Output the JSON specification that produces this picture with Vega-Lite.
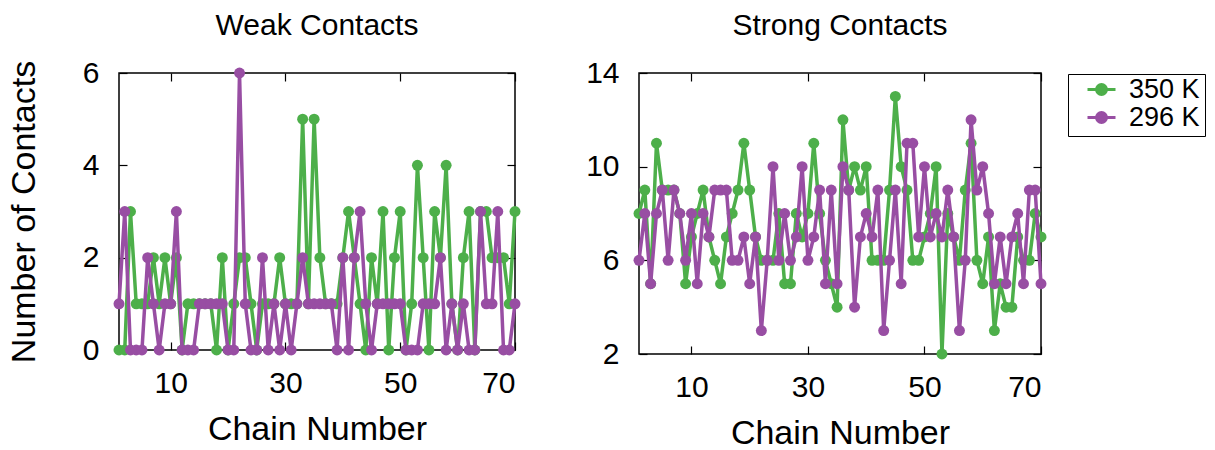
{
 "$schema": "https://vega.github.io/schema/vega-lite/v6.json",
 "background": "white",
 "padding": {"left": 6, "top": 10, "right": 2, "bottom": 2},
 "datasets": {
  "weak": [
   {"n":1,"s":"350 K","v":0},{"n":2,"s":"350 K","v":0},{"n":3,"s":"350 K","v":3},{"n":4,"s":"350 K","v":1},{"n":5,"s":"350 K","v":1},{"n":6,"s":"350 K","v":1},{"n":7,"s":"350 K","v":2},{"n":8,"s":"350 K","v":1},{"n":9,"s":"350 K","v":2},{"n":10,"s":"350 K","v":1},
   {"n":11,"s":"350 K","v":2},{"n":12,"s":"350 K","v":0},{"n":13,"s":"350 K","v":1},{"n":14,"s":"350 K","v":1},{"n":15,"s":"350 K","v":1},{"n":16,"s":"350 K","v":1},{"n":17,"s":"350 K","v":1},{"n":18,"s":"350 K","v":0},{"n":19,"s":"350 K","v":2},{"n":20,"s":"350 K","v":0},
   {"n":21,"s":"350 K","v":1},{"n":22,"s":"350 K","v":2},{"n":23,"s":"350 K","v":2},{"n":24,"s":"350 K","v":1},{"n":25,"s":"350 K","v":0},{"n":26,"s":"350 K","v":1},{"n":27,"s":"350 K","v":1},{"n":28,"s":"350 K","v":1},{"n":29,"s":"350 K","v":2},{"n":30,"s":"350 K","v":1},
   {"n":31,"s":"350 K","v":1},{"n":32,"s":"350 K","v":1},{"n":33,"s":"350 K","v":5},{"n":34,"s":"350 K","v":1},{"n":35,"s":"350 K","v":5},{"n":36,"s":"350 K","v":2},{"n":37,"s":"350 K","v":1},{"n":38,"s":"350 K","v":1},{"n":39,"s":"350 K","v":1},{"n":40,"s":"350 K","v":2},
   {"n":41,"s":"350 K","v":3},{"n":42,"s":"350 K","v":2},{"n":43,"s":"350 K","v":1},{"n":44,"s":"350 K","v":0},{"n":45,"s":"350 K","v":2},{"n":46,"s":"350 K","v":1},{"n":47,"s":"350 K","v":3},{"n":48,"s":"350 K","v":0},{"n":49,"s":"350 K","v":2},{"n":50,"s":"350 K","v":3},
   {"n":51,"s":"350 K","v":0},{"n":52,"s":"350 K","v":1},{"n":53,"s":"350 K","v":4},{"n":54,"s":"350 K","v":2},{"n":55,"s":"350 K","v":0},{"n":56,"s":"350 K","v":3},{"n":57,"s":"350 K","v":2},{"n":58,"s":"350 K","v":4},{"n":59,"s":"350 K","v":1},{"n":60,"s":"350 K","v":0},
   {"n":61,"s":"350 K","v":2},{"n":62,"s":"350 K","v":3},{"n":63,"s":"350 K","v":0},{"n":64,"s":"350 K","v":3},{"n":65,"s":"350 K","v":3},{"n":66,"s":"350 K","v":2},{"n":67,"s":"350 K","v":2},{"n":68,"s":"350 K","v":2},{"n":69,"s":"350 K","v":1},{"n":70,"s":"350 K","v":3},
   {"n":1,"s":"296 K","v":1},{"n":2,"s":"296 K","v":3},{"n":3,"s":"296 K","v":0},{"n":4,"s":"296 K","v":0},{"n":5,"s":"296 K","v":0},{"n":6,"s":"296 K","v":2},{"n":7,"s":"296 K","v":1},{"n":8,"s":"296 K","v":0},{"n":9,"s":"296 K","v":1},{"n":10,"s":"296 K","v":1},
   {"n":11,"s":"296 K","v":3},{"n":12,"s":"296 K","v":0},{"n":13,"s":"296 K","v":0},{"n":14,"s":"296 K","v":0},{"n":15,"s":"296 K","v":1},{"n":16,"s":"296 K","v":1},{"n":17,"s":"296 K","v":1},{"n":18,"s":"296 K","v":1},{"n":19,"s":"296 K","v":1},{"n":20,"s":"296 K","v":0},
   {"n":21,"s":"296 K","v":0},{"n":22,"s":"296 K","v":6},{"n":23,"s":"296 K","v":1},{"n":24,"s":"296 K","v":0},{"n":25,"s":"296 K","v":0},{"n":26,"s":"296 K","v":2},{"n":27,"s":"296 K","v":0},{"n":28,"s":"296 K","v":1},{"n":29,"s":"296 K","v":0},{"n":30,"s":"296 K","v":1},
   {"n":31,"s":"296 K","v":0},{"n":32,"s":"296 K","v":1},{"n":33,"s":"296 K","v":2},{"n":34,"s":"296 K","v":1},{"n":35,"s":"296 K","v":1},{"n":36,"s":"296 K","v":1},{"n":37,"s":"296 K","v":1},{"n":38,"s":"296 K","v":1},{"n":39,"s":"296 K","v":0},{"n":40,"s":"296 K","v":2},
   {"n":41,"s":"296 K","v":0},{"n":42,"s":"296 K","v":2},{"n":43,"s":"296 K","v":3},{"n":44,"s":"296 K","v":1},{"n":45,"s":"296 K","v":0},{"n":46,"s":"296 K","v":1},{"n":47,"s":"296 K","v":1},{"n":48,"s":"296 K","v":1},{"n":49,"s":"296 K","v":1},{"n":50,"s":"296 K","v":1},
   {"n":51,"s":"296 K","v":0},{"n":52,"s":"296 K","v":0},{"n":53,"s":"296 K","v":0},{"n":54,"s":"296 K","v":1},{"n":55,"s":"296 K","v":1},{"n":56,"s":"296 K","v":1},{"n":57,"s":"296 K","v":2},{"n":58,"s":"296 K","v":0},{"n":59,"s":"296 K","v":1},{"n":60,"s":"296 K","v":0},
   {"n":61,"s":"296 K","v":1},{"n":62,"s":"296 K","v":0},{"n":63,"s":"296 K","v":0},{"n":64,"s":"296 K","v":3},{"n":65,"s":"296 K","v":1},{"n":66,"s":"296 K","v":1},{"n":67,"s":"296 K","v":3},{"n":68,"s":"296 K","v":0},{"n":69,"s":"296 K","v":0},{"n":70,"s":"296 K","v":1}
  ],
  "strong": [
   {"n":1,"s":"350 K","v":8},{"n":2,"s":"350 K","v":9},{"n":3,"s":"350 K","v":5},{"n":4,"s":"350 K","v":11},{"n":5,"s":"350 K","v":9},{"n":6,"s":"350 K","v":9},{"n":7,"s":"350 K","v":9},{"n":8,"s":"350 K","v":8},{"n":9,"s":"350 K","v":5},{"n":10,"s":"350 K","v":7},
   {"n":11,"s":"350 K","v":8},{"n":12,"s":"350 K","v":9},{"n":13,"s":"350 K","v":7},{"n":14,"s":"350 K","v":6},{"n":15,"s":"350 K","v":5},{"n":16,"s":"350 K","v":7},{"n":17,"s":"350 K","v":8},{"n":18,"s":"350 K","v":9},{"n":19,"s":"350 K","v":11},{"n":20,"s":"350 K","v":9},
   {"n":21,"s":"350 K","v":7},{"n":22,"s":"350 K","v":6},{"n":23,"s":"350 K","v":6},{"n":24,"s":"350 K","v":6},{"n":25,"s":"350 K","v":8},{"n":26,"s":"350 K","v":5},{"n":27,"s":"350 K","v":5},{"n":28,"s":"350 K","v":8},{"n":29,"s":"350 K","v":7},{"n":30,"s":"350 K","v":8},
   {"n":31,"s":"350 K","v":11},{"n":32,"s":"350 K","v":8},{"n":33,"s":"350 K","v":6},{"n":34,"s":"350 K","v":5},{"n":35,"s":"350 K","v":4},{"n":36,"s":"350 K","v":12},{"n":37,"s":"350 K","v":9},{"n":38,"s":"350 K","v":10},{"n":39,"s":"350 K","v":9},{"n":40,"s":"350 K","v":10},
   {"n":41,"s":"350 K","v":6},{"n":42,"s":"350 K","v":6},{"n":43,"s":"350 K","v":6},{"n":44,"s":"350 K","v":9},{"n":45,"s":"350 K","v":13},{"n":46,"s":"350 K","v":10},{"n":47,"s":"350 K","v":9},{"n":48,"s":"350 K","v":6},{"n":49,"s":"350 K","v":6},{"n":50,"s":"350 K","v":7},
   {"n":51,"s":"350 K","v":8},{"n":52,"s":"350 K","v":10},{"n":53,"s":"350 K","v":2},{"n":54,"s":"350 K","v":8},{"n":55,"s":"350 K","v":7},{"n":56,"s":"350 K","v":6},{"n":57,"s":"350 K","v":9},{"n":58,"s":"350 K","v":11},{"n":59,"s":"350 K","v":6},{"n":60,"s":"350 K","v":5},
   {"n":61,"s":"350 K","v":7},{"n":62,"s":"350 K","v":3},{"n":63,"s":"350 K","v":5},{"n":64,"s":"350 K","v":4},{"n":65,"s":"350 K","v":4},{"n":66,"s":"350 K","v":7},{"n":67,"s":"350 K","v":6},{"n":68,"s":"350 K","v":6},{"n":69,"s":"350 K","v":8},{"n":70,"s":"350 K","v":7},
   {"n":1,"s":"296 K","v":6},{"n":2,"s":"296 K","v":8},{"n":3,"s":"296 K","v":5},{"n":4,"s":"296 K","v":8},{"n":5,"s":"296 K","v":9},{"n":6,"s":"296 K","v":6},{"n":7,"s":"296 K","v":9},{"n":8,"s":"296 K","v":8},{"n":9,"s":"296 K","v":6},{"n":10,"s":"296 K","v":8},
   {"n":11,"s":"296 K","v":5},{"n":12,"s":"296 K","v":8},{"n":13,"s":"296 K","v":7},{"n":14,"s":"296 K","v":9},{"n":15,"s":"296 K","v":9},{"n":16,"s":"296 K","v":9},{"n":17,"s":"296 K","v":6},{"n":18,"s":"296 K","v":6},{"n":19,"s":"296 K","v":7},{"n":20,"s":"296 K","v":5},
   {"n":21,"s":"296 K","v":7},{"n":22,"s":"296 K","v":3},{"n":23,"s":"296 K","v":6},{"n":24,"s":"296 K","v":10},{"n":25,"s":"296 K","v":6},{"n":26,"s":"296 K","v":8},{"n":27,"s":"296 K","v":6},{"n":28,"s":"296 K","v":7},{"n":29,"s":"296 K","v":10},{"n":30,"s":"296 K","v":6},
   {"n":31,"s":"296 K","v":7},{"n":32,"s":"296 K","v":9},{"n":33,"s":"296 K","v":5},{"n":34,"s":"296 K","v":9},{"n":35,"s":"296 K","v":5},{"n":36,"s":"296 K","v":10},{"n":37,"s":"296 K","v":9},{"n":38,"s":"296 K","v":4},{"n":39,"s":"296 K","v":7},{"n":40,"s":"296 K","v":8},
   {"n":41,"s":"296 K","v":7},{"n":42,"s":"296 K","v":9},{"n":43,"s":"296 K","v":3},{"n":44,"s":"296 K","v":6},{"n":45,"s":"296 K","v":9},{"n":46,"s":"296 K","v":5},{"n":47,"s":"296 K","v":11},{"n":48,"s":"296 K","v":11},{"n":49,"s":"296 K","v":7},{"n":50,"s":"296 K","v":10},
   {"n":51,"s":"296 K","v":7},{"n":52,"s":"296 K","v":8},{"n":53,"s":"296 K","v":7},{"n":54,"s":"296 K","v":9},{"n":55,"s":"296 K","v":7},{"n":56,"s":"296 K","v":3},{"n":57,"s":"296 K","v":6},{"n":58,"s":"296 K","v":12},{"n":59,"s":"296 K","v":9},{"n":60,"s":"296 K","v":10},
   {"n":61,"s":"296 K","v":8},{"n":62,"s":"296 K","v":5},{"n":63,"s":"296 K","v":7},{"n":64,"s":"296 K","v":5},{"n":65,"s":"296 K","v":7},{"n":66,"s":"296 K","v":8},{"n":67,"s":"296 K","v":5},{"n":68,"s":"296 K","v":9},{"n":69,"s":"296 K","v":9},{"n":70,"s":"296 K","v":5}
  ]
 },
 "config": {
  "font": "Liberation Sans",
  "view": {"stroke": "black", "strokeWidth": 1.5},
  "axis": {"grid": false, "domain": false, "tickSize": -8, "tickColor": "black", "tickWidth": 1.2, "labelFontSize": 30, "labelColor": "black", "labelFont": "Liberation Sans", "titleFontSize": 34, "titleFontWeight": "normal", "titleColor": "black", "titleFont": "Liberation Sans"},
  "title": {"fontSize": 30, "fontWeight": "normal", "font": "Liberation Sans", "color": "black"}
 },
 "bounds": "flush",
 "spacing": 124,
 "hconcat": [
  {
   "width": 396, "height": 277,
   "title": {"text": "Weak Contacts", "offset": 17},
   "data": {"name": "weak"},
   "layer": [
    {
     "transform": [{"filter": "datum.s === '350 K'"}],
     "mark": {"type": "line", "strokeWidth": 3.5, "color": "#4daf4a", "point": {"filled": true, "size": 120, "color": "#4daf4a", "opacity": 1}},
     "encoding": {
      "x": {"field": "n", "type": "quantitative", "scale": {"domain": [1, 70], "nice": false, "zero": false}, "axis": {"values": [10, 30, 50, 70], "title": "Chain Number", "labelPadding": 26, "labelDx": 5, "titlePadding": 14}},
      "y": {"field": "v", "type": "quantitative", "scale": {"domain": [0, 6], "nice": false}, "axis": {"values": [0, 2, 4, 6], "title": "Number of Contacts", "labelPadding": 28, "titlePadding": 41}}
     }
    },
    {
     "transform": [{"filter": "datum.s === '296 K'"}],
     "mark": {"type": "line", "strokeWidth": 3.5, "color": "#984ea3", "point": {"filled": true, "size": 120, "color": "#984ea3", "opacity": 1}},
     "encoding": {
      "x": {"field": "n", "type": "quantitative", "axis": null},
      "y": {"field": "v", "type": "quantitative", "axis": null}
     }
    },
    {
     "mark": {"type": "point", "opacity": 0},
     "encoding": {
      "x": {"field": "n", "type": "quantitative", "axis": {"orient": "top", "values": [10, 30, 50, 70], "labels": false, "title": null}},
      "y": {"field": "v", "type": "quantitative", "axis": {"orient": "right", "values": [0, 2, 4, 6], "labels": false, "title": null}}
     }
    }
   ],
   "resolve": {"axis": {"x": "independent", "y": "independent"}}
  },
  {
   "width": 402, "height": 281,
   "title": {"text": "Strong Contacts", "offset": 17},
   "data": {"name": "strong"},
   "layer": [
    {
     "transform": [{"filter": "datum.s === '350 K'"}],
     "mark": {"type": "line", "strokeWidth": 3.5, "point": {"filled": true, "size": 120, "opacity": 1}},
     "encoding": {
      "x": {"field": "n", "type": "quantitative", "scale": {"domain": [1, 70], "nice": false, "zero": false}, "axis": {"values": [10, 30, 50, 70], "title": "Chain Number", "labelPadding": 26, "labelDx": 5, "titlePadding": 14}},
      "y": {"field": "v", "type": "quantitative", "scale": {"domain": [2, 14], "nice": false, "zero": false}, "axis": {"values": [2, 6, 10, 14], "title": null, "labelPadding": 28}},
      "color": {"field": "s", "type": "nominal", "scale": {"domain": ["350 K", "296 K"], "range": ["#4daf4a", "#984ea3"]},
       "legend": {"orient": "none", "legendX": 949, "legendY": 1, "title": null, "labelFontSize": 27, "labelColor": "black", "symbolType": "M-2,0L2,0M-0.71,0A0.71,0.71,0,1,1,0.71,0A0.71,0.71,0,1,1,-0.71,0Z", "symbolSize": 196, "symbolStrokeWidth": 3, "strokeColor": "black", "padding": 5, "clipHeight": 21, "symbolOffset": 15, "labelOffset": 14, "rowPadding": 0,
        "encode": {"symbols": {"update": {"fill": {"scale": "color", "field": "value"}, "stroke": {"scale": "color", "field": "value"}, "opacity": {"value": 1}}}}}}
     }
    },
    {
     "transform": [{"filter": "datum.s === '296 K'"}],
     "mark": {"type": "line", "strokeWidth": 3.5, "point": {"filled": true, "size": 120, "opacity": 1}},
     "encoding": {
      "x": {"field": "n", "type": "quantitative", "axis": null},
      "y": {"field": "v", "type": "quantitative", "axis": null},
      "color": {"field": "s", "type": "nominal"}
     }
    },
    {
     "mark": {"type": "point", "opacity": 0},
     "encoding": {
      "x": {"field": "n", "type": "quantitative", "axis": {"orient": "top", "values": [10, 30, 50, 70], "labels": false, "title": null}},
      "y": {"field": "v", "type": "quantitative", "axis": {"orient": "right", "values": [2, 6, 10, 14], "labels": false, "title": null}}
     }
    }
   ],
   "resolve": {"axis": {"x": "independent", "y": "independent"}}
  }
 ]
}
